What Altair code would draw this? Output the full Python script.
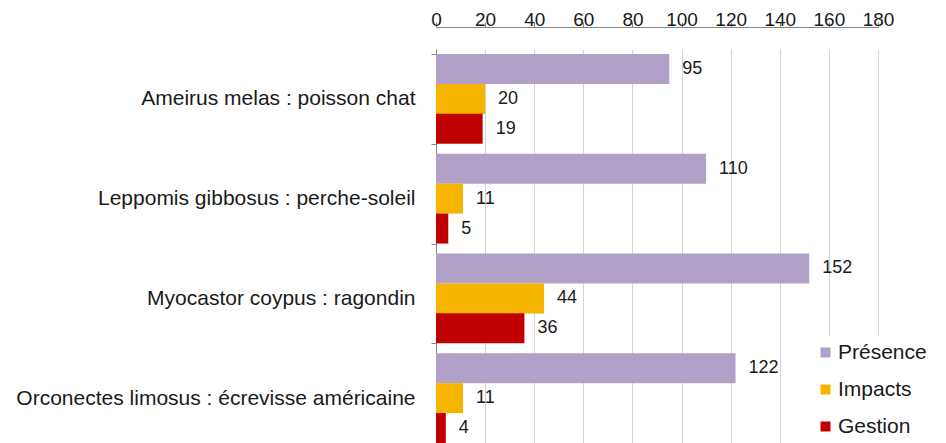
import altair as alt
import pandas as pd

categories = [
    "Ameirus melas : poisson  chat",
    "Leppomis gibbosus : perche-soleil",
    "Myocastor coypus : ragondin",
    "Orconectes limosus : écrevisse  américaine",
]
series = ["Présence", "Impacts", "Gestion"]
presence = [95, 110, 152, 122]
impacts = [20, 11, 44, 11]
gestion = [19, 5, 36, 4]
colors = ["#b1a0c7", "#f5b400", "#c00000"]
x_ticks = [0, 20, 40, 60, 80, 100, 120, 140, 160, 180]

rows = []
for i, c in enumerate(categories):
    for s, vals in zip(series, [presence, impacts, gestion]):
        rows.append({"category": c, "series": s, "value": vals[i]})
df = pd.DataFrame(rows)

FONT = "Liberation Sans"

y_enc = alt.Y(
    "category:N",
    sort=categories,
    title=None,
    scale=alt.Scale(range=[22, 421], paddingInner=0.1, paddingOuter=0.05),
    axis=alt.Axis(
        labelFontSize=21,
        labelFont=FONT,
        labelColor="#1a1a1a",
        labelLimit=600,
        labelPadding=16,
        tickBand="extent",
        tickSize=5,
        tickColor="#868686",
        domainColor="#868686",
        grid=False,
    ),
)
yoff_enc = alt.YOffset("series:N", sort=series, scale=alt.Scale(paddingInner=0, paddingOuter=0))
x_enc = alt.X(
    "value:Q",
    title=None,
    scale=alt.Scale(domain=[0, 180], nice=False, zero=True),
    axis=alt.Axis(
        orient="top",
        values=x_ticks,
        labelFontSize=19,
        labelFont=FONT,
        labelColor="#1a1a1a",
        labelPadding=-7,
        labelFlush=False,
        labelOverlap=False,
        tickSize=5,
        tickColor="#868686",
        domainColor="#868686",
        grid=True,
        gridColor="#d4d4d4",
    ),
)

bars = alt.Chart(df).mark_bar(size=30).encode(
    y=y_enc,
    yOffset=yoff_enc,
    x=x_enc,
    color=alt.Color(
        "series:N",
        sort=series,
        scale=alt.Scale(domain=series, range=colors),
        legend=alt.Legend(
            title=None,
            orient="none",
            legendX=373,
            legendY=309,
            symbolType="square",
            symbolSize=100,
            symbolStrokeWidth=0,
            labelFontSize=21,
            labelFont=FONT,
            labelColor="#1a1a1a",
            labelOffset=2,
            rowPadding=15,
            fillColor="white",
            padding=6,
        ),
    ),
)

labels = alt.Chart(df).mark_text(
    align="left", baseline="middle", dx=13, fontSize=18, font=FONT, color="#1a1a1a"
).encode(
    y=alt.Y("category:N", sort=categories),
    yOffset=alt.YOffset("series:N", sort=series),
    x=alt.X("value:Q"),
    text=alt.Text("value:Q"),
)

chart = (
    alt.layer(bars, labels)
    .properties(
        width=442,
        height=416,
        autosize=alt.AutoSizeParams(type="none"),
        padding={"left": 428, "top": 19, "right": 60, "bottom": 0},
        background="white",
    )
    .configure_view(stroke=None)
)

chart.save("out.html", embed_options={"renderer": "svg", "actions": False})
